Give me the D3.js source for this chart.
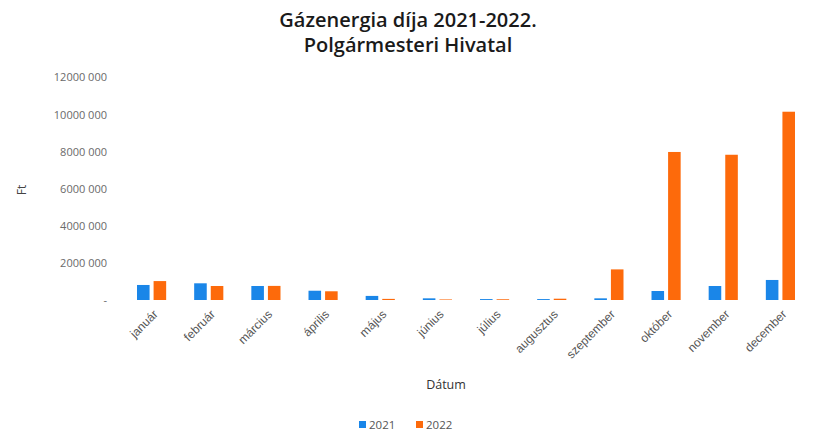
<!DOCTYPE html>
<html><head><meta charset="utf-8">
<script src="https://cdn.jsdelivr.net/npm/d3@7"></script>
<style>
html,body{margin:0;padding:0;background:#fff;}
svg{display:block;font-family:"Open Sans","Noto Sans",sans-serif;}
</style></head>
<body><svg id="c" width="816" height="445"></svg>
<script>
const months = ["január","február","március","április","május","június","július","augusztus","szeptember","október","november","december"];
const seriesNames = ["2021","2022"];
const values2021 = [810000, 900000, 755000, 500000, 220000, 90000, 50000, 50000, 90000, 485000, 755000, 1080000];
const values2022 = [1020000, 755000, 760000, 470000, 60000, 30000, 40000, 70000, 1650000, 7980000, 7830000, 10150000];
const yTicks = [0, 2000000, 4000000, 6000000, 8000000, 10000000, 12000000];
const colors = ["#1a86e8", "#fd6a0b"];
const titleLines = ["Gázenergia díja 2021-2022.", "Polgármesteri Hivatal"];

const svg = d3.select("#c");
const x = d3.scaleBand().domain(months).range([123, 809]).paddingInner(0.49).paddingOuter(0.245);
const xi = d3.scaleBand().domain(seriesNames).range([0, x.bandwidth()]).paddingInner(0.242);
const y = d3.scaleLinear().domain([0, 12000000]).range([300, 77.4]);

const data = months.map((m,i)=>({m, v:[values2021[i], values2022[i]]}));

// title
svg.append("g").selectAll("text").data(titleLines).join("text")
  .attr("x", 408).attr("y",(d,i)=>27+i*25).attr("text-anchor","middle")
  .attr("font-size",20).attr("font-weight",600).attr("fill","#1a1a1a").text(d=>d);

// y axis
const fmt = d => { if (d===0) return "-"; const s = String(d); const a = s.slice(0, s.length-6), b = s.slice(-6,-3), c = s.slice(-3); return a+b+" "+c; };
const yAxis = d3.axisLeft(y).tickValues(yTicks).tickSize(0).tickPadding(0).tickFormat(fmt);
const ya = svg.append("g").attr("transform","translate(107,0)").call(yAxis);
ya.select(".domain").remove();
ya.selectAll("text").attr("font-size",11).attr("fill","#6a6a6a").attr("font-family","'Open Sans',sans-serif");

svg.append("text").attr("transform","translate(26,190) rotate(-90)").attr("text-anchor","middle")
  .attr("font-size",12).attr("fill","#444").text("Ft");

// bars
const g = svg.append("g").selectAll("g").data(data).join("g").attr("transform", d=>`translate(${x(d.m)},0)`);
g.selectAll("rect").data(d=>d.v.map((v,i)=>({k:seriesNames[i], v, i}))).join("rect")
  .attr("x", d=>xi(d.k)).attr("width", xi.bandwidth())
  .attr("y", d=>y(d.v)).attr("height", d=>y(0)-y(d.v))
  .attr("fill", d=>colors[d.i]);

// x axis labels
const xAxis = d3.axisBottom(x).tickSize(0).tickPadding(0);
const xa = svg.append("g").attr("transform","translate(0,306)").call(xAxis);
xa.select(".domain").remove();
xa.selectAll("text").attr("font-size",12).attr("fill","#555")
  .attr("text-anchor","end").attr("dy","0").attr("transform","translate(7,9) rotate(-45)");

svg.append("text").attr("x",446).attr("y",389).attr("text-anchor","middle")
  .attr("font-size",12.5).attr("fill","#333").text("Dátum");

// legend
const lg = svg.append("g").selectAll("g").data(seriesNames).join("g")
  .attr("transform",(d,i)=>`translate(${359+i*57},0)`);
lg.append("rect").attr("x",0).attr("y",421).attr("width",7).attr("height",7).attr("fill",(d,i)=>colors[i]);
lg.append("text").attr("x",10).attr("y",429).attr("font-size",11.5).attr("fill","#555").text(d=>d);
</script></body></html>
